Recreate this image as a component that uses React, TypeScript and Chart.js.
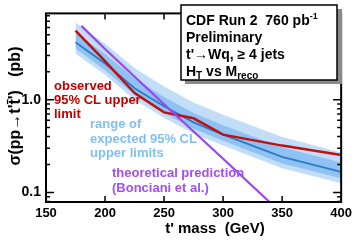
import React, { useEffect, useRef } from "react";
import { Chart, registerables } from "chart.js";

Chart.register(...registerables);

// ---- data ----
const masses = [175, 200, 225, 250, 275, 300, 350, 400];
const observed = [5.55, 2.6, 1.18, 0.73, 0.63, 0.42, 0.32, 0.254];
const expected = [4.16, 2.45, 1.33, 0.85, 0.57, 0.42, 0.242, 0.167];
const exp2Up = [6.8, 4.0, 2.2, 1.39, 0.93, 0.69, 0.395, 0.27];
const exp1Up = [5.25, 3.1, 1.7, 1.07, 0.72, 0.53, 0.305, 0.21];
const exp1Down = [3.55, 2.08, 1.13, 0.72, 0.485, 0.36, 0.205, 0.142];
const exp2Down = [3.15, 1.85, 1.0, 0.64, 0.43, 0.32, 0.183, 0.126];
const theoryMasses = [180, 200, 250, 300, 340];
const theory = [6.24, 3.52, 0.892, 0.231, 0.0776];
const xTicks = [150, 200, 250, 300, 350, 400];
const yTicks = [0.08, 0.09, 0.1, 0.2, 0.3, 0.4, 0.5, 0.6, 0.7, 0.8, 0.9, 1, 2, 3, 4, 5, 6, 7, 8];
const yLabels: Record<string, string> = { "0.1": "0.1", "1": "1.0" };

const FONT = "'Liberation Sans', Arial, Helvetica, sans-serif";

const pts = (xs: number[], ys: number[]) => xs.map((x, i) => ({ x, y: ys[i] }));

const framePlugin = {
  id: "frame",
  afterDatasetsDraw(chart: any) {
    const { ctx, chartArea: a, scales } = chart;
    const ys = scales.y;
    const xs = scales.x;
    ctx.save();
    ctx.strokeStyle = "#000";
    ctx.lineWidth = 1.5;
    ys.ticks.forEach((t: any) => {
      const p = ys.getPixelForValue(t.value);
      if (p < a.top - 0.5 || p > a.bottom + 0.5) return;
      const major = Math.abs(Math.log10(t.value) - Math.round(Math.log10(t.value))) < 1e-6;
      const len = major ? 8 : 4;
      ctx.beginPath();
      ctx.moveTo(a.left, p);
      ctx.lineTo(a.left + len, p);
      ctx.moveTo(a.right, p);
      ctx.lineTo(a.right - len, p);
      ctx.stroke();
    });
    xs.ticks.forEach((t: any) => {
      const p = xs.getPixelForValue(t.value);
      ctx.beginPath();
      ctx.moveTo(p, a.bottom);
      ctx.lineTo(p, a.bottom - 6);
      ctx.moveTo(p, a.top);
      ctx.lineTo(p, a.top + 6);
      ctx.stroke();
    });
    ctx.lineWidth = 2;
    ctx.strokeRect(a.left, a.top, a.right - a.left, a.bottom - a.top);

    // axis titles
    ctx.fillStyle = "#000";
    ctx.font = `bold 15px ${FONT}`;
    ctx.textAlign = "center";
    ctx.textBaseline = "middle";
    ctx.fillText("t' mass  (GeV)", 215, 229);
    ctx.save();
    ctx.translate(16, 106);
    ctx.rotate(-Math.PI / 2);
    ctx.font = `bold 16px ${FONT}`;
    ctx.fillText("\u03c3(pp\u2192t't\u0304')   (pb)", 0, 0);
    ctx.restore();

    // annotations
    ctx.textAlign = "left";
    ctx.font = `bold 13px ${FONT}`;
    ctx.fillStyle = "#c00000";
    ctx.fillText("observed", 54, 86);
    ctx.fillText("95% CL upper", 54, 100);
    ctx.fillText("limit", 54, 114);
    ctx.fillStyle = "#80bff2";
    ctx.fillText("range of", 90, 124);
    ctx.fillText("expected 95% CL", 90, 139);
    ctx.fillText("upper limits", 90, 153);
    ctx.fillStyle = "#a050f0";
    ctx.fillText("theoretical prediction", 112, 173);
    ctx.fillText("(Bonciani et al.)", 112, 188);

    // legend box
    ctx.fillStyle = "#8a8a8a";
    ctx.fillRect(185, 9, 157, 75);
    ctx.fillStyle = "#fff";
    ctx.fillRect(181, 5, 156, 75);
    ctx.lineWidth = 1.5;
    ctx.strokeStyle = "#000";
    ctx.strokeRect(181, 5, 156, 75);
    ctx.fillStyle = "#000";
    ctx.textBaseline = "alphabetic";
    ctx.font = `bold 14px ${FONT}`;
    const x = 186;
    const t1 = "CDF Run 2  760 pb";
    ctx.fillText(t1, x, 25);
    let w = ctx.measureText(t1).width;
    ctx.font = `bold 9px ${FONT}`;
    ctx.fillText("-1", x + w, 19);
    ctx.font = `bold 14px ${FONT}`;
    ctx.fillText("Preliminary", x, 42);
    ctx.fillText("t'\u2192Wq, \u2265 4 jets", x, 59);
    ctx.fillText("H", x, 76);
    w = ctx.measureText("H").width;
    ctx.font = `bold 10px ${FONT}`;
    ctx.fillText("T", x + w, 79);
    const w2 = ctx.measureText("T").width;
    ctx.font = `bold 14px ${FONT}`;
    ctx.fillText(" vs M", x + w + w2, 76);
    const w3 = ctx.measureText(" vs M").width;
    ctx.font = `bold 10px ${FONT}`;
    ctx.fillText("reco", x + w + w2 + w3, 79);
    ctx.restore();
  },
};

export default function App() {
  const ref = useRef<HTMLCanvasElement>(null);
  useEffect(() => {
    document.body.style.margin = "0";
    const chart = new Chart(ref.current!, {
      type: "line",
      data: {
        datasets: [
          { order: 10, data: pts(masses, exp2Up), borderWidth: 0, pointRadius: 0, backgroundColor: "#c2ddf8", fill: "+1" },
          { order: 9, data: pts(masses, exp2Down), borderWidth: 0, pointRadius: 0, fill: false },
          { order: 8, data: pts(masses, exp1Up), borderWidth: 0, pointRadius: 0, backgroundColor: "#8fc2f3", fill: "+1" },
          { order: 7, data: pts(masses, exp1Down), borderWidth: 0, pointRadius: 0, fill: false },
          { order: 3, data: pts(masses, expected), borderColor: "#2a7cc6", borderWidth: 1.8, pointRadius: 0, fill: false },
          { order: 2, data: pts(masses, observed), borderColor: "#c01010", borderWidth: 2.5, pointRadius: 0, fill: false },
          { order: 1, data: pts(theoryMasses, theory), borderColor: "#9b45f0", borderWidth: 2.2, pointRadius: 0, fill: false },
        ],
      },
      plugins: [framePlugin],
      options: {
        responsive: false,
        animation: false,
        events: [],
        layout: { padding: { top: 1, right: 12, left: 0, bottom: 0 } },
        plugins: { legend: { display: false }, tooltip: { enabled: false } },
        scales: {
          x: {
            type: "linear",
            min: 150,
            max: 400,
            afterFit: (s: any) => { s.height = 40; },
            afterBuildTicks: (s: any) => { s.ticks = xTicks.map((v) => ({ value: v })); },
            grid: { display: false, drawTicks: false },
            border: { display: false },
            ticks: { padding: 4, color: "#000", font: { family: FONT, size: 13, weight: "bold" }, maxRotation: 0, autoSkip: false },
          },
          y: {
            type: "logarithmic",
            min: 0.079,
            max: 8.5,
            afterFit: (s: any) => { s.width = 46; },
            afterBuildTicks: (s: any) => { s.ticks = yTicks.map((v) => ({ value: v })); },
            grid: { display: false, drawTicks: false },
            border: { display: false },
            ticks: {
              padding: 5,
              autoSkip: false,
              color: "#000",
              font: { family: FONT, size: 14, weight: "bold" },
              callback: (v: any) => yLabels[String(v)] ?? "",
            },
          },
        },
      },
    });
    return () => chart.destroy();
  }, []);
  return <canvas ref={ref} width={356} height={242} style={{ display: "block" }} />;
}
